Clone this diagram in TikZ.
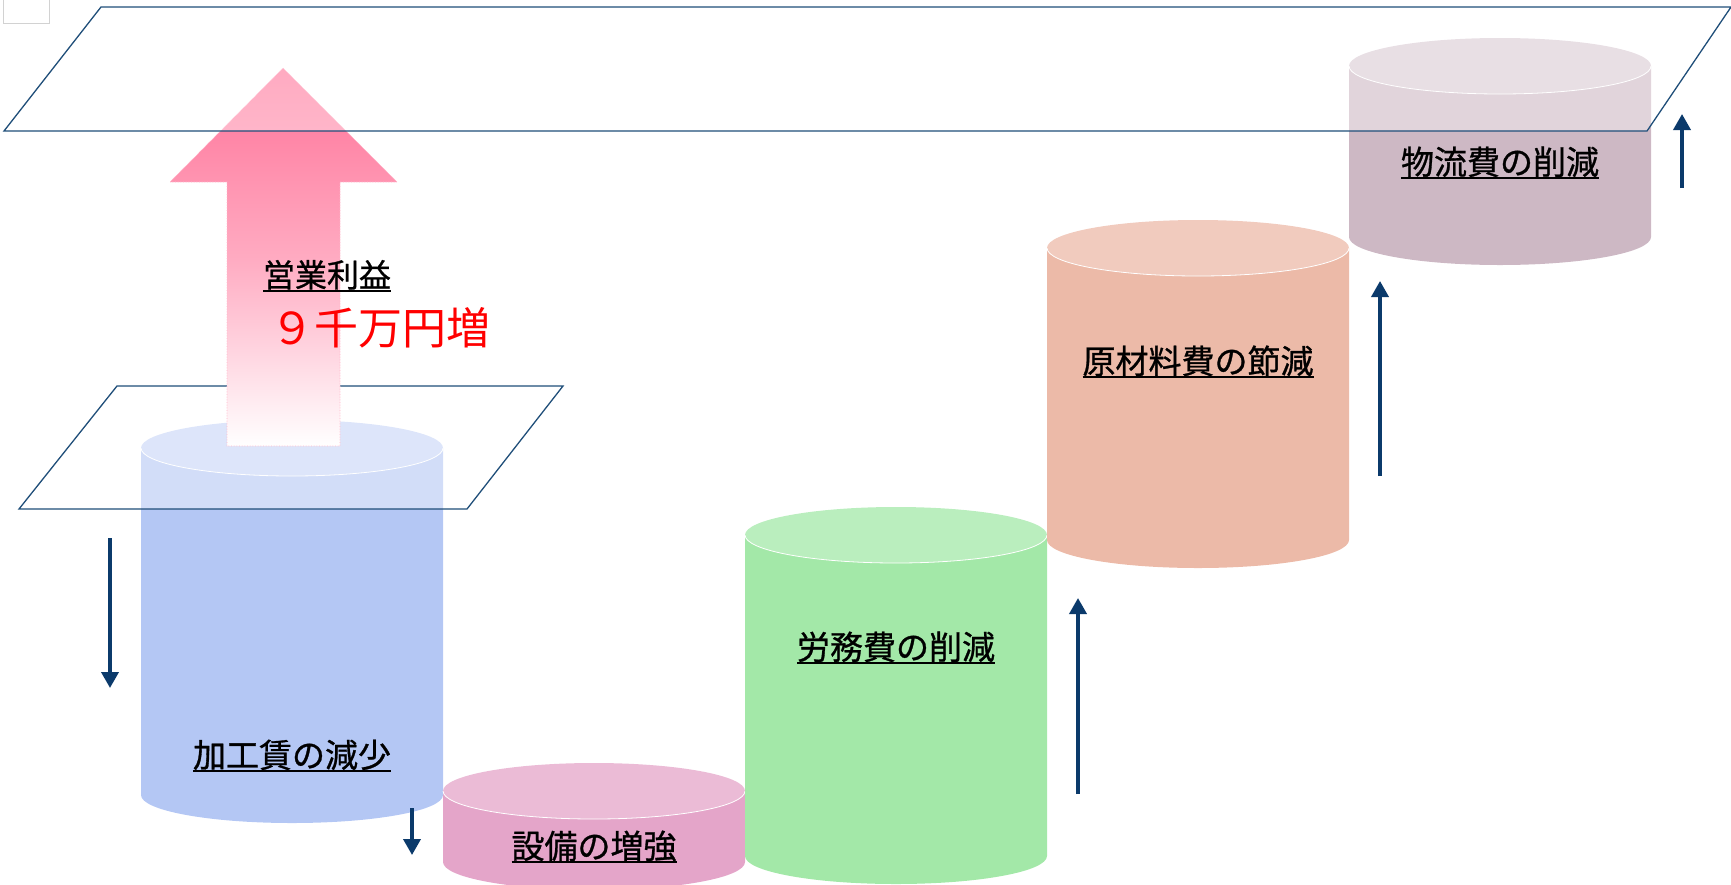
\documentclass[tikz,border=0pt]{standalone}
\usepackage{fontspec}
\setmainfont{Noto Sans CJK JP}
\newfontfamily\labelfont{Noto Sans CJK JP}[FakeBold=0.9]
\usetikzlibrary{arrows.meta}

\definecolor{planeline}{HTML}{1F4E79}
\definecolor{stepnavy}{HTML}{0B3A6B}
\definecolor{profitpink}{HTML}{FF7298}
\definecolor{cylblue}{HTML}{B4C7F4}
\definecolor{cylpink}{HTML}{E4A5C9}
\definecolor{cylgreen}{HTML}{A3E8A8}
\definecolor{cylsalmon}{HTML}{ECBAA8}
\definecolor{cylmauve}{HTML}{CDB8C4}

% thicker underline for the labels
\newsavebox\ulbox
\newcommand\ulabel[1]{\sbox\ulbox{#1}\rlap{\usebox\ulbox}\rule[-5pt]{\wd\ulbox}{2.2pt}}

\begin{document}
\begin{tikzpicture}[x=1pt,y=-1pt,
    plane/.style={draw=planeline, line width=1.3pt, fill=white, fill opacity=0.4},
    stepline/.style={draw=stepnavy, line width=3.6pt, -{Triangle[width=17pt,length=16pt]}},
    cyllabel/.style={font=\labelfont\fontsize{33}{38}\selectfont, text=black, inner sep=0pt}]
    \useasboundingbox (0,0) rectangle (1731,884);
    \clip (0,0) rectangle (1731,884);

    % little box in the corner
    \draw[gray!35, line width=1pt] (3,-5) rectangle (49,23);

    % cylinders: index / top y / bottom y / colour / label / label y
    \foreach \i/\yt/\yb/\col/\txt/\yl in {
        0/448/795/cylblue/加工賃の減少/756,
        1/791/862/cylpink/設備の増強/847,
        2/535/856/cylgreen/労務費の削減/648,
        3/248/540/cylsalmon/原材料費の節減/362,
        4/66/237/cylmauve/物流費の削減/163}
    {
        \pgfmathsetmacro\cx{292+302*\i}
        \fill[\col] (\cx-151,\yt) -- (\cx-151,\yb)
            arc[start angle=180, end angle=360, x radius=151pt, y radius=28pt]
            -- (\cx+151,\yt) -- cycle;
        \fill[\col!75!white] (\cx,\yt) ellipse[x radius=151pt, y radius=28pt];
        \draw[white, line width=0.8pt] (\cx-151,\yt)
            arc[start angle=180, end angle=360, x radius=151pt, y radius=28pt];
        \node[cyllabel] (lbl\i) at (\cx,\yl) {\ulabel{\txt}};
    }

    % lower plane, then the profit arrow, then the upper plane
    \filldraw[plane] (117,386) -- (563,386) -- (467,509) -- (19,509) -- cycle;

    \shade[top color=profitpink, bottom color=white, middle color=profitpink!60!white,
        draw=profitpink!50, densely dotted, line width=0.6pt]
        (283,68) -- (397,182) -- (340,182) -- (340,446)
        -- (227,446) -- (227,182) -- (170,182) -- cycle;

    \filldraw[plane] (101,7) -- (1731,7) -- (1647,131) -- (4,131) -- cycle;

    \node[cyllabel, font=\labelfont\fontsize{32}{36}\selectfont] (profit) at (327,276) {\ulabel{営業利益}};
    \node[font=\fontsize{44}{50}\selectfont, text=red, inner sep=0pt] (gain) at (380,328) {９千万円増};

    % step arrows
    \coordinate (d0a) at (110,538);  \coordinate (d0b) at (110,688);
    \coordinate (d1a) at (412,808);  \coordinate (d1b) at (412,855);
    \coordinate (u2a) at (1078,794); \coordinate (u2b) at (1078,598);
    \coordinate (u3a) at (1380,476); \coordinate (u3b) at (1380,281);
    \coordinate (u4a) at (1682,188); \coordinate (u4b) at (1682,114);
    \foreach \a/\b in {d0a/d0b, d1a/d1b, u2a/u2b, u3a/u3b, u4a/u4b}
    {
        \draw[stepline] (\a) -- (\b);
    }

\end{tikzpicture}
\end{document}
